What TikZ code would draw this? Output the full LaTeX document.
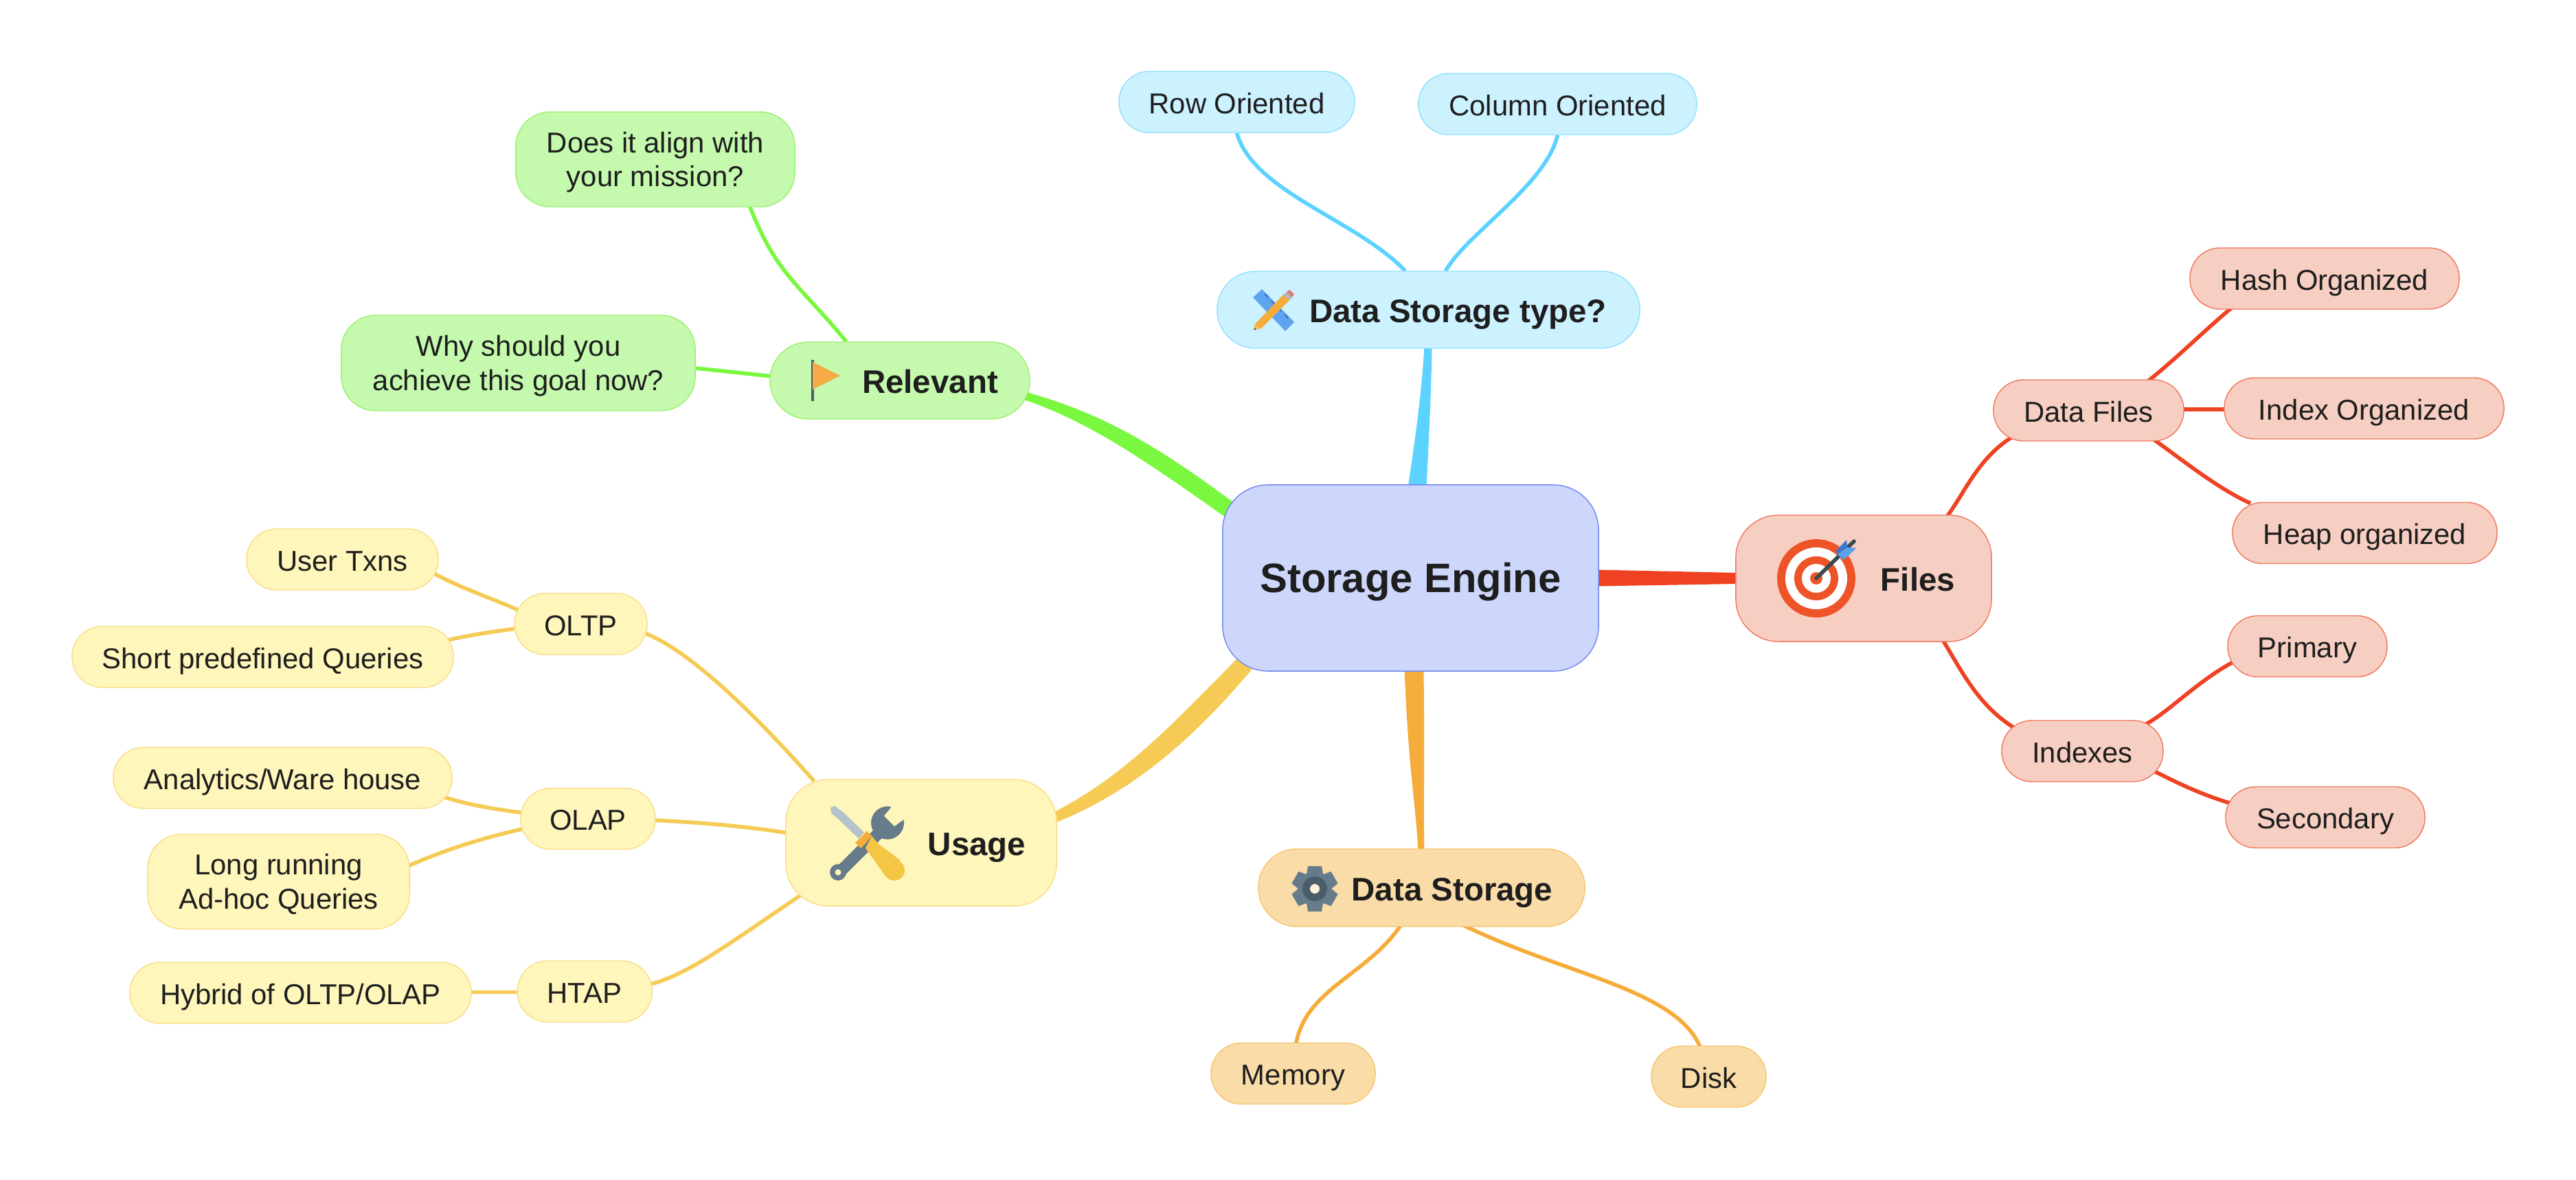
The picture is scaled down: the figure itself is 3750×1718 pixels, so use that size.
\documentclass[tikz,border=0pt]{standalone}
\usepackage{fontspec}
\setmainfont{Liberation Sans}
\usetikzlibrary{calc,backgrounds}
\definecolor{rootfill}{HTML}{CDD7FB}
\definecolor{rootedge}{HTML}{6F86F0}
\definecolor{typefill}{HTML}{CCF1FF}
\definecolor{typeedge}{HTML}{8FDFFF}
\definecolor{typeline}{HTML}{5CD2FF}
\definecolor{filefill}{HTML}{F7CFC2}
\definecolor{fileedge}{HTML}{F0765C}
\definecolor{fileline}{HTML}{EE4223}
\definecolor{usefill}{HTML}{FEF6BB}
\definecolor{useedge}{HTML}{F9DD85}
\definecolor{useline}{HTML}{F5CB55}
\definecolor{relfill}{HTML}{C5FAAE}
\definecolor{reledge}{HTML}{9AF070}
\definecolor{relline}{HTML}{79F83F}
\definecolor{storefill}{HTML}{F9DCA7}
\definecolor{storeedge}{HTML}{F7C46F}
\definecolor{storeline}{HTML}{F5AC3A}
\definecolor{ink}{HTML}{1E1E1E}
\definecolor{slate}{HTML}{667C8A}
\definecolor{darkslate}{HTML}{4B5D6B}
\definecolor{rulerblue}{HTML}{5FA4F0}
\definecolor{tickblue}{HTML}{3269BE}
\definecolor{ferrule}{HTML}{B4B9BE}
\definecolor{eraser}{HTML}{E07A70}
\definecolor{woodtip}{HTML}{F5C85A}
\definecolor{targetred}{HTML}{EE5428}
\definecolor{shaft}{HTML}{3A4A52}
\definecolor{featherdark}{HTML}{3A78D0}
\definecolor{featherlight}{HTML}{5AA0EA}
\definecolor{blade}{HTML}{B4C2CC}
\definecolor{grip}{HTML}{F5C646}
\definecolor{flagorange}{HTML}{F5AB47}
\tikzset{
  mainbox/.style 2 args={draw=#2,fill=#1,line width=0.4pt,rounded corners=0.56cm,inner sep=0pt,text=ink,
    text height=10.6pt,text depth=0pt,font=\fontsize{13.5}{16}\selectfont\bfseries},
  leaf/.style 2 args={draw=#2,fill=#1,line width=0.4pt,rounded corners=0.44cm,inner sep=0pt,text=ink,align=center,
    text height=9.4pt,text depth=0pt,font=\fontsize{11.9}{14}\selectfont},
  twolines/.style={rounded corners=0.5cm,text height=25pt,text depth=2.5pt},
  link/.style={line width=1.6pt}
}
\begin{document}
\begin{tikzpicture}[x=0.01cm,y=-0.01cm]
\useasboundingbox (0,0) rectangle (3750,1718);
% ================= centre and main branches =================
\node[mainbox={rootfill}{rootedge},rounded corners=0.66cm,minimum width=5.47cm,minimum height=2.71cm,
  text height=11.8pt,font=\fontsize{17}{20}\selectfont\bfseries] (root) at (2053.5,841.5) {Storage Engine};
\node[mainbox={typefill}{typeedge},minimum width=6.15cm,minimum height=1.12cm] (dtype) at (2079.5,451) {\hspace*{0.86cm}Data Storage type?};
\node[mainbox={filefill}{fileedge},rounded corners=0.62cm,minimum width=3.72cm,minimum height=1.84cm] (files) at (2713,842) {\hspace*{1.58cm}Files};
\node[mainbox={usefill}{useedge},rounded corners=0.62cm,minimum width=3.94cm,minimum height=1.84cm] (usage) at (1341,1227) {\hspace*{1.62cm}Usage};
\node[mainbox={relfill}{reledge},minimum width=3.78cm,minimum height=1.12cm] (relevant) at (1310,554) {\hspace*{0.88cm}Relevant};
\node[mainbox={storefill}{storeedge},minimum width=4.75cm,minimum height=1.13cm] (dstore) at (2069.5,1292.5) {\hspace*{0.89cm}Data Storage};
% ================= leaves =================
\node[leaf={typefill}{typeedge},minimum width=3.43cm,minimum height=0.89cm] (rowo) at (1800.5,148.5) {Row Oriented};
\node[leaf={typefill}{typeedge},minimum width=4.05cm,minimum height=0.89cm] (colo) at (2267.5,151.5) {Column Oriented};
\node[leaf={relfill}{reledge},twolines,minimum width=4.06cm,minimum height=1.38cm] (align) at (954,232) {Does it align with\\your mission?};
\node[leaf={relfill}{reledge},twolines,minimum width=5.15cm,minimum height=1.39cm] (why) at (754.5,528.5) {Why should you\\achieve this goal now?};
\node[leaf={usefill}{useedge},minimum width=2.79cm,minimum height=0.89cm] (user) at (498.5,814.5) {User Txns};
\node[leaf={usefill}{useedge},minimum width=1.93cm,minimum height=0.89cm] (oltp) at (845.5,908.5) {OLTP};
\node[leaf={usefill}{useedge},minimum width=5.55cm,minimum height=0.89cm] (short) at (382.5,956.5) {Short predefined Queries};
\node[leaf={usefill}{useedge},minimum width=4.93cm,minimum height=0.89cm] (ware) at (411.5,1132.5) {Analytics/Ware house};
\node[leaf={usefill}{useedge},minimum width=1.96cm,minimum height=0.89cm] (olap) at (856,1192) {OLAP};
\node[leaf={usefill}{useedge},twolines,minimum width=3.81cm,minimum height=1.38cm] (long) at (405.5,1283.5) {Long running\\Ad-hoc Queries};
\node[leaf={usefill}{useedge},minimum width=1.96cm,minimum height=0.89cm] (htap) at (851,1443.5) {HTAP};
\node[leaf={usefill}{useedge},minimum width=4.97cm,minimum height=0.89cm] (hybrid) at (437.5,1445.5) {Hybrid of OLTP/OLAP};
\node[leaf={storefill}{storeedge},minimum width=2.39cm,minimum height=0.89cm] (memory) at (1882.5,1563) {Memory};
\node[leaf={storefill}{storeedge},minimum width=1.67cm,minimum height=0.89cm] (disk) at (2487.5,1567.5) {Disk};
\node[leaf={filefill}{fileedge},minimum width=2.77cm,minimum height=0.89cm] (dfiles) at (3040.5,597.5) {Data Files};
\node[leaf={filefill}{fileedge},minimum width=3.92cm,minimum height=0.89cm] (hash) at (3384,405.5) {Hash Organized};
\node[leaf={filefill}{fileedge},minimum width=4.07cm,minimum height=0.89cm] (index) at (3441.5,594.5) {Index Organized};
\node[leaf={filefill}{fileedge},minimum width=3.85cm,minimum height=0.89cm] (heap) at (3442.5,776) {Heap organized};
\node[leaf={filefill}{fileedge},minimum width=2.35cm,minimum height=0.89cm] (indexes) at (3031.5,1093.5) {Indexes};
\node[leaf={filefill}{fileedge},minimum width=2.32cm,minimum height=0.89cm] (primary) at (3359,941) {Primary};
\node[leaf={filefill}{fileedge},minimum width=2.90cm,minimum height=0.89cm] (second) at (3385,1190) {Secondary};
% ================= connectors behind the boxes =================
\begin{scope}[on background layer]
% tapered main branches
\fill[typeline] ($(root.north)+(-4,5)$) .. controls (2060,640) and (2070,570) .. ($(dtype.south)+(-6,-5)$)
  -- ($(dtype.south)+(5,-5)$) .. controls (2084,560) and (2080,640) .. ($(root.north)+(23,5)$) -- cycle;
\fill[fileline] ($(root.east)+(-5,-12)$) -- ($(files.west)+(5,-8)$) -- ($(files.west)+(5,8)$) -- ($(root.east)+(-5,12)$) -- cycle;
\fill[relline] ($(root.north west)+(20,29)$) .. controls (1680,645) and (1600,600) .. ($(relevant.east)+(-9,16)$)
  -- ($(relevant.east)+(-9,28)$) .. controls (1590,615) and (1680,680) .. ($(root.north west)+(8,50)$) -- cycle;
\fill[useline] ($(root.south west)+(23,-20)$) .. controls (1720,1040) and (1640,1130) .. ($(usage.east)+(-8,-43)$)
  -- ($(usage.east)+(-8,-27)$) .. controls (1660,1150) and (1750,1060) .. ($(root.south west)+(44,-4)$) -- cycle;
\fill[storeline] ($(root.south)+(-9,-5)$) .. controls (2050,1120) and (2062,1180) .. ($(dstore.north)+(-5,5)$)
  -- ($(dstore.north)+(4,5)$) .. controls (2072,1180) and (2074,1120) .. ($(root.south)+(19,-5)$) -- cycle;
% type branches
\draw[link,typeline] (rowo.south) .. controls (1825,280) and (1975,320) .. ($(dtype.north)+(-34,0)$);
\draw[link,typeline] (colo.south) .. controls (2250,270) and (2135,340) .. ($(dtype.north)+(25,0)$);
% relevant branches
\draw[link,relline] ($(align.south)+(136,-5)$) .. controls (1130,400) and (1160,410) .. ($(relevant.north)+(-78,0)$);
\draw[link,relline] ($(why.east)+(-5,7)$) -- ($(relevant.west)+(5,-6)$);
% usage branches
\draw[link,useline] ($(oltp.east)+(-5,13)$) .. controls (1000,945) and (1090,1030) .. ($(usage.north west)+(42,3)$);
\draw[link,useline] ($(olap.east)+(-5,2)$) .. controls (1010,1197) and (1080,1202) .. ($(usage.west)+(5,-14)$);
\draw[link,useline] ($(htap.east)+(-5,-10)$) .. controls (1000,1420) and (1060,1375) .. ($(usage.south west)+(26,-19)$);
\draw[link,useline] ($(user.south east)+(-18,-31)$) .. controls (665,855) and (715,870) .. ($(oltp.west)+(16,-16)$);
\draw[link,useline] ($(short.east)+(-15,-23)$) .. controls (680,925) and (715,920) .. ($(oltp.west)+(8,6)$);
\draw[link,useline] ($(ware.east)+(-18,26)$) .. controls (680,1172) and (720,1178) .. ($(olap.west)+(8,-8)$);
\draw[link,useline] ($(long.east)+(-6,-21)$) .. controls (640,1240) and (700,1220) .. ($(olap.west)+(8,14)$);
\draw[link,useline] ($(hybrid.east)+(-5,-1)$) -- ($(htap.west)+(5,1)$);
% storage branches
\draw[link,storeline] ($(dstore.south)+(-30,-3)$) .. controls (1990,1420) and (1900,1440) .. ($(memory.north)+(4,3)$);
\draw[link,storeline] ($(dstore.south)+(60,-3)$) .. controls (2280,1420) and (2440,1440) .. ($(disk.north)+(-12,3)$);
% file branches
\draw[link,fileline] ($(files.north)+(121,3)$) .. controls (2860,718) and (2880,665) .. ($(dfiles.south west)+(32,-9)$);
\draw[link,fileline] ($(files.south)+(115,-3)$) .. controls (2855,975) and (2880,1030) .. ($(indexes.north west)+(25,15)$);
\draw[link,fileline] ($(dfiles.north east)+(-60,8)$) .. controls (3160,530) and (3210,480) .. ($(hash.south west)+(62,-3)$);
\draw[link,fileline] ($(dfiles.east)+(-5,-1.5)$) -- ($(index.west)+(5,1.5)$);
\draw[link,fileline] ($(dfiles.south east)+(-52,-8)$) .. controls (3165,660) and (3225,710) .. ($(heap.north west)+(27,2)$);
\draw[link,fileline] ($(indexes.north east)+(-26,6)$) .. controls (3160,1035) and (3205,985) .. ($(primary.south west)+(20,-28)$);
\draw[link,fileline] ($(indexes.south east)+(-22,-20)$) .. controls (3170,1140) and (3210,1160) .. ($(second.north west)+(20,28)$);
\end{scope}
% ================= icons =================
% ruler and pencil
\fill[rulerblue] (1837,421) -- (1824,433) -- (1871,482) -- (1884,469) -- cycle;
\draw[line width=0.5pt,tickblue] (1841,428) -- (1846,433) (1851,438) -- (1855,443) (1860,448) -- (1865,453) (1870,458) -- (1875,463);
\fill[storeline] (1868,429) -- (1877,437) -- (1835,479) -- (1826,473) -- cycle;
\fill[ferrule] (1868,429) -- (1877,437) -- (1881,433) -- (1873,425) -- cycle;
\fill[eraser] (1873,425) -- (1881,433) -- (1884,428) -- (1877,422) -- cycle;
\fill[woodtip] (1826,473) -- (1835,479) -- (1825,480) -- cycle;
\fill[darkslate] (1826.5,477) -- (1829,480) -- (1825,480.5) -- cycle;
% target
\fill[targetred] (2644,842) circle (57);
\fill[white] (2644,842) circle (45);
\fill[targetred] (2644,842) circle (32);
\fill[white] (2644,842) circle (21);
\fill[targetred] (2644,842) circle (9);
\draw[line width=1.6pt,line cap=round,shaft] (2644,842) -- (2699,788);
\fill[featherdark] (2688,786) -- (2673,802) -- (2678,812) -- (2702,798) -- (2689,797) -- cycle;
\fill[featherlight] (2675,807) -- (2689,797) -- (2702,798) -- (2691,809) -- (2683,815) -- cycle;
% tools
\fill[blade] (1209,1176) -- (1215,1173) -- (1228,1183) -- (1258,1212) -- (1250,1221) -- (1220,1192) -- (1210,1184) -- cycle;
\fill[slate] (1292,1198) circle (24);
\fill[slate] (1214,1266) -- (1226,1278) -- (1296,1208) -- (1284,1196) -- cycle;
\fill[usefill] (1300,1172) -- (1320,1190) -- (1302,1203) -- (1287,1188) -- cycle;
\fill[slate] (1220,1270) circle (12);
\fill[usefill] (1220,1270) circle (4.5);
\fill[grip] (1269,1217) -- (1278,1228) -- (1310,1252) -- (1315,1272) -- (1290,1277) -- (1260,1235) -- cycle;
\fill[grip] (1302,1267) circle (15);
\fill[storeline] (1245,1227) -- (1262,1210) -- (1269,1217) -- (1260,1228) -- (1253,1235) -- cycle;
% flag
\draw[line width=0.9pt,darkslate] (1183,524) -- (1183,584);
\fill[flagorange] (1183,527) -- (1223,547) -- (1183,567) -- cycle;
% gear
\foreach \a in {30,90,...,330} {
  \fill[slate,rotate around={\a:(1914,1294)}] (1935,1282) -- (1947,1284) -- (1947,1304) -- (1935,1306) -- cycle;
}
\fill[slate] (1914,1294) circle (25);
\fill[darkslate] (1914,1294) circle (18);
\fill[storefill!40!white] (1914,1294) circle (7);
\end{tikzpicture}
\end{document}
